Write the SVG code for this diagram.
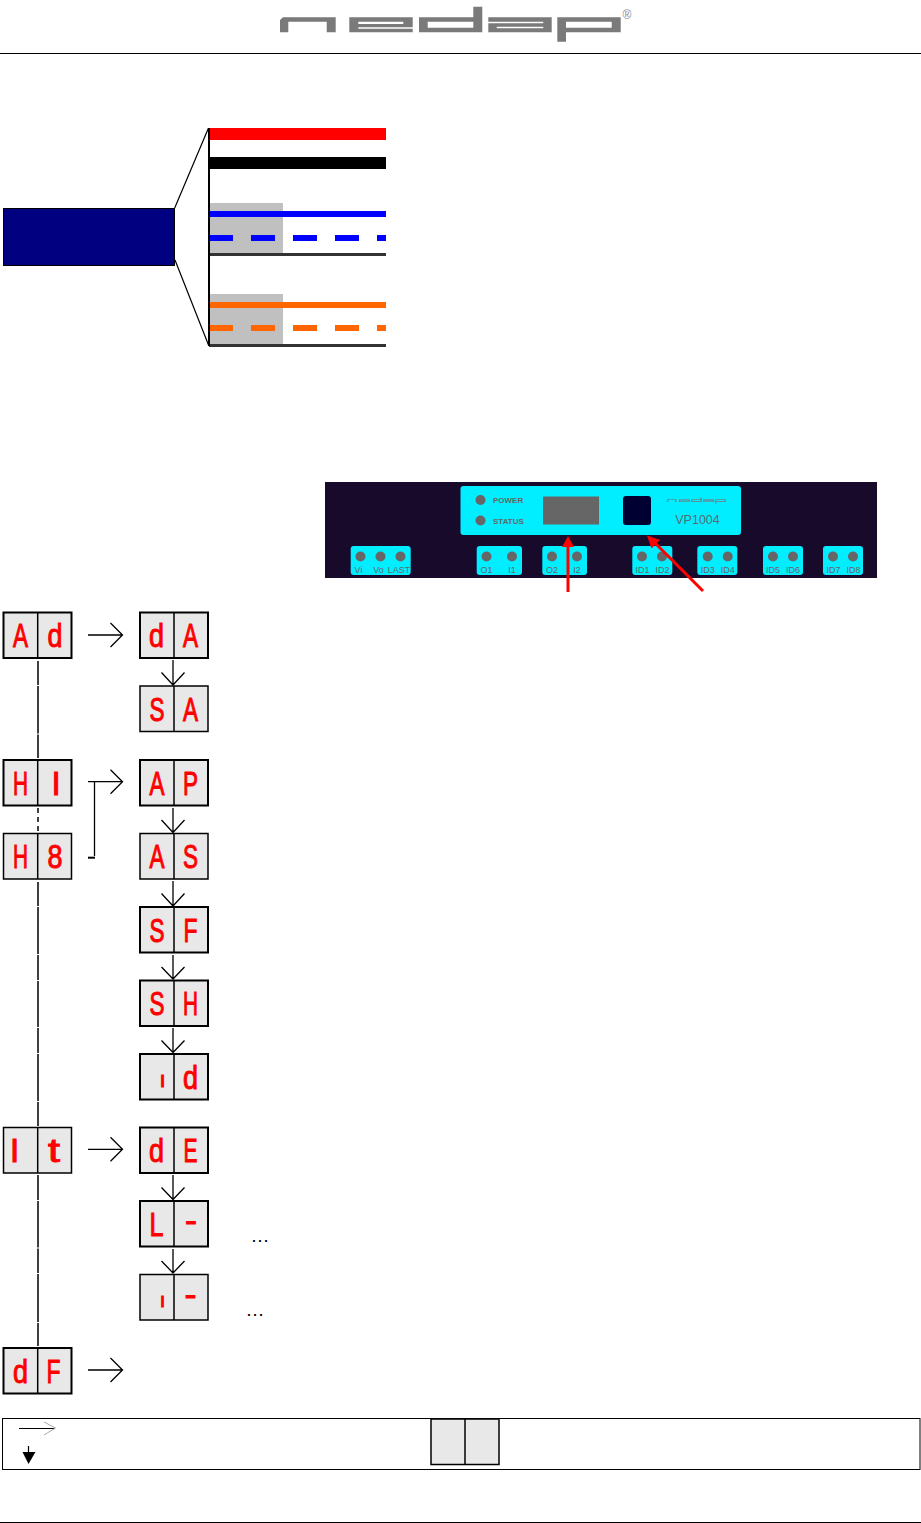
<svg xmlns="http://www.w3.org/2000/svg" xmlns:xlink="http://www.w3.org/1999/xlink" width="921" height="1523" viewBox="0 0 921 1523">
<style>
text{font-family:"Liberation Sans",Arial,sans-serif}
.cell{fill:#e8e8e8;stroke:#000;stroke-width:1.5}
.thick{stroke-width:2}
.div{stroke:#000;stroke-width:1.5}
.seg{fill:#f00;stroke:#f00;stroke-width:1;font-size:33px;text-anchor:middle}
.lnk{fill:none;stroke:#000;stroke-width:1.3}
.lnk2{fill:none;stroke:#000;stroke-width:1.5}
.cy{fill:#00eeff}
.led{fill:#666}
.tl{fill:#666;font-size:9px;text-anchor:middle}
.pl{fill:#666;font-size:8px;font-weight:bold}
.red{fill:none;stroke:#f00;stroke-width:3}
.logo{fill:#7a7a7a}
</style>
<defs>
<g id="logo">
<path fill-rule="evenodd" d="M280 20 L283 17.3 H335.7 V32.3 H326.7 V21.7 H288.3 V32.3 H280 Z"/>
<path fill-rule="evenodd" d="M349.3 17.3 H412.7 V27.3 H358.3 V28.7 H412.7 V32.3 H349.3 Z M358.3 21.7 V24 H403.3 V21.7 Z"/>
<path fill-rule="evenodd" d="M419 17.3 H473.3 V6.7 H482.3 V32.3 H419 Z M427.7 21.7 V27.7 H473.3 V21.7 Z"/>
<path fill-rule="evenodd" d="M488.3 17.3 H551.7 V32.3 H488.3 V28.3 H543.3 V26.7 H496.7 V28.3 H488.3 V23.3 H543.3 V21.7 H488.3 Z"/>
<path fill-rule="evenodd" d="M557.3 17.3 H620.7 V32.3 H566 V41.7 H557.3 Z M566 21.7 V27.7 H611.7 V21.7 Z"/>
</g>
</defs>
<rect width="921" height="1523" fill="#fff"/>

<g id="header">
<use xlink:href="#logo" href="#logo" class="logo"/>
<text x="627" y="19" font-size="12" fill="#8a8a8a" text-anchor="middle">®</text>
<rect x="0" y="53" width="921" height="1" fill="#000"/>
<rect x="0" y="1522" width="921" height="1" fill="#000"/>
</g>

<g id="cable">
<path d="M174.7 208 L208.5 128 M175 260 L208.5 345" fill="none" stroke="#000" stroke-width="1.2"/>
<rect x="3.5" y="208.5" width="171" height="57" fill="#000080" stroke="#000" stroke-width="1"/>
<rect x="209" y="203" width="74" height="50" fill="#c0c0c0"/>
<rect x="209" y="294" width="74" height="50" fill="#c0c0c0"/>
<rect x="209" y="128" width="177" height="12" fill="#f00"/>
<rect x="209" y="157" width="177" height="12" fill="#000"/>
<rect x="209" y="211" width="177" height="6" fill="#00f"/>
<path d="M209 238 H233 M251 238 H275 M293 238 H317 M335 238 H359 M377 238 H386" stroke="#00f" stroke-width="6" fill="none"/>
<rect x="209" y="253" width="177" height="3" fill="#333"/>
<rect x="209" y="302" width="177" height="6" fill="#f60"/>
<path d="M209 328 H233 M251 328 H275 M293 328 H317 M335 328 H359 M377 328 H386" stroke="#f60" stroke-width="6" fill="none"/>
<rect x="209" y="344" width="177" height="3" fill="#333"/>
<rect x="208" y="128" width="2" height="218" fill="#000"/>
</g>

<g id="panel">
<rect x="325" y="482" width="552" height="96" fill="#170a2b"/>
<rect class="cy" x="460.5" y="486" width="280.5" height="49" rx="3"/>
<circle class="led" cx="480.5" cy="500" r="5"/>
<circle class="led" cx="480.5" cy="520.5" r="5"/>
<text class="pl" x="493" y="503">POWER</text>
<text class="pl" x="493" y="524">STATUS</text>
<rect x="543" y="496.5" width="56" height="28" fill="#666"/>
<rect x="623" y="496" width="28" height="29" rx="3" fill="#000033"/>
<use xlink:href="#logo" href="#logo" fill="#5f8f99" transform="translate(618.5 496.3) scale(.173)"/>
<text x="697.5" y="524" font-size="12.5" fill="#5a6a75" text-anchor="middle">VP1004</text>
<rect class="cy" x="350.7" y="546" width="60" height="29" rx="3"/>
<rect class="cy" x="476.7" y="546" width="45.3" height="29" rx="3"/>
<rect class="cy" x="542.3" y="546" width="44.7" height="29" rx="3"/>
<rect class="cy" x="632.3" y="546" width="40" height="29" rx="3"/>
<rect class="cy" x="697.3" y="546" width="40" height="29" rx="3"/>
<rect class="cy" x="763" y="546" width="40" height="29" rx="3"/>
<rect class="cy" x="823" y="546" width="40" height="29" rx="3"/>
<g>
<circle class="led" cx="360.5" cy="556.5" r="5"/><circle class="led" cx="380.5" cy="556.5" r="5"/><circle class="led" cx="400.5" cy="556.5" r="5"/>
<circle class="led" cx="486.5" cy="556.5" r="5"/><circle class="led" cx="512" cy="556.5" r="5"/>
<circle class="led" cx="552" cy="556.5" r="5"/><circle class="led" cx="577" cy="556.5" r="5"/>
<circle class="led" cx="642" cy="556.5" r="5"/><circle class="led" cx="662" cy="556.5" r="5"/>
<circle class="led" cx="707.7" cy="556.5" r="5"/><circle class="led" cx="727.7" cy="556.5" r="5"/>
<circle class="led" cx="773" cy="556.5" r="5"/><circle class="led" cx="793" cy="556.5" r="5"/>
<circle class="led" cx="833" cy="556.5" r="5"/><circle class="led" cx="853" cy="556.5" r="5"/>
</g>
<g>
<text class="tl" x="358.5" y="572.5">Vi</text><text class="tl" x="378.5" y="572.5">Vo</text><text class="tl" x="399" y="572.5">LAST</text>
<text class="tl" x="486.5" y="572.5">O1</text><text class="tl" x="512" y="572.5">I1</text>
<text class="tl" x="552" y="572.5">O2</text><text class="tl" x="577" y="572.5">I2</text>
<text class="tl" x="642.5" y="572.5">ID1</text><text class="tl" x="662.5" y="572.5">ID2</text>
<text class="tl" x="707.7" y="572.5">ID3</text><text class="tl" x="727.7" y="572.5">ID4</text>
<text class="tl" x="773" y="572.5">ID5</text><text class="tl" x="793" y="572.5">ID6</text>
<text class="tl" x="833.5" y="572.5">ID7</text><text class="tl" x="853.5" y="572.5">ID8</text>
</g>
<path class="red" d="M568 592 V545"/>
<path d="M568 536 L574 547 H562 Z" fill="#f00"/>
<path class="red" d="M703 591 L654 542"/>
<path d="M647 535.5 L660 540 L651.5 548.5 Z" fill="#f00"/>
</g>

<g id="connectors">
<path class="lnk2" d="M38 661 V685 M38 686 V733.5 M38 734.5 V758"/>
<path class="lnk2" d="M38 808 V832" stroke-dasharray="5 4"/>
<path class="lnk2" d="M38 882 V906 M38 907 V954 M38 955 V980 M38 981 V1027 M38 1028 V1053 M38 1054 V1101 M38 1102 V1126"/>
<path class="lnk2" d="M38 1175 V1200 M38 1201 V1247.5 M38 1248.5 V1273 M38 1274 V1322 M38 1323 V1346"/>
<path class="lnk" d="M88 635 H122.5 M110.5 623 L122.5 635 L110.5 647"/>
<path class="lnk" d="M88 781.7 H122.5 M110.5 769.7 L122.5 781.7 L110.5 793.7"/>
<path class="lnk" d="M88 1149.3 H122.5 M110.5 1137.3 L122.5 1149.3 L110.5 1161.3"/>
<path class="lnk" d="M88 1370 H122.5 M110.5 1358 L122.5 1370 L110.5 1382"/>
<path class="lnk" d="M94.5 782 V856"/>
<path d="M88 857.7 H95" fill="none" stroke="#000" stroke-width="2"/>
<path class="lnk" d="M173 660 V685 M161.5 672.5 L173 685 L184.5 672.5"/>
<path class="lnk" d="M173 808 V832.5 M161.5 820 L173 832.5 L184.5 820"/>
<path class="lnk" d="M173 881 V906 M161.5 893.5 L173 906 L184.5 893.5"/>
<path class="lnk" d="M173 955 V979 M161.5 967 L173 979 L184.5 967"/>
<path class="lnk" d="M173 1028 V1052.5 M161.5 1040.5 L173 1052.5 L184.5 1040.5"/>
<path class="lnk" d="M173 1175 V1199.5 M161.5 1187.5 L173 1199.5 L184.5 1187.5"/>
<path class="lnk" d="M173 1249 V1273 M161.5 1261 L173 1273 L184.5 1261"/>
</g>

<g id="node-Ad"><rect class="cell thick" x="3.5" y="612.5" width="68" height="45.5"/><path class="div" d="M37.7 612.5 V658"/><text class="seg" x="20.5" y="647" textLength="15" lengthAdjust="spacingAndGlyphs">A</text><text class="seg" x="55" y="647" textLength="15" lengthAdjust="spacingAndGlyphs">d</text></g>
<g id="node-dA"><rect class="cell thick" x="140" y="612.5" width="68" height="45.5"/><path class="div thick" d="M174 612.5 V658"/><text class="seg" x="156.5" y="647" textLength="15" lengthAdjust="spacingAndGlyphs">d</text><text class="seg" x="190.5" y="647" textLength="15" lengthAdjust="spacingAndGlyphs">A</text></g>
<g id="node-SA"><rect class="cell" x="140" y="686" width="68" height="45.5"/><path class="div thick" d="M174 686 V731.5"/><text class="seg" x="157" y="721" textLength="15" lengthAdjust="spacingAndGlyphs">S</text><text class="seg" x="190.5" y="721" textLength="15" lengthAdjust="spacingAndGlyphs">A</text></g>
<g id="node-HI"><rect class="cell thick" x="3.5" y="760" width="68" height="45.5"/><path class="div" d="M37.7 760 V805.5"/><text class="seg" x="20.5" y="794.5" textLength="15" lengthAdjust="spacingAndGlyphs">H</text><text class="seg" x="56" y="794.5">I</text></g>
<g id="node-AP"><rect class="cell thick" x="140" y="760" width="68" height="45.5"/><path class="div thick" d="M174 760 V805.5"/><text class="seg" x="157" y="794.5" textLength="15" lengthAdjust="spacingAndGlyphs">A</text><text class="seg" x="190.5" y="794.5" textLength="15" lengthAdjust="spacingAndGlyphs">P</text></g>
<g id="node-H8"><rect class="cell" x="3.5" y="833.5" width="68" height="45.5"/><path class="div" d="M37.7 833.5 V879"/><text class="seg" x="20.5" y="868" textLength="15" lengthAdjust="spacingAndGlyphs">H</text><text class="seg" x="55" y="868" textLength="15" lengthAdjust="spacingAndGlyphs">8</text></g>
<g id="node-AS"><rect class="cell" x="140" y="833.5" width="68" height="45.5"/><path class="div thick" d="M174 833.5 V879"/><text class="seg" x="157" y="868" textLength="15" lengthAdjust="spacingAndGlyphs">A</text><text class="seg" x="190.5" y="868" textLength="15" lengthAdjust="spacingAndGlyphs">S</text></g>
<g id="node-SF"><rect class="cell thick" x="140" y="907" width="68" height="45.5"/><path class="div thick" d="M174 907 V952.5"/><text class="seg" x="157" y="942" textLength="15" lengthAdjust="spacingAndGlyphs">S</text><text class="seg" x="190.5" y="942" textLength="14" lengthAdjust="spacingAndGlyphs">F</text></g>
<g id="node-SH"><rect class="cell thick" x="140" y="980.5" width="68" height="45.5"/><path class="div thick" d="M174 980.5 V1026"/><text class="seg" x="157" y="1015" textLength="15" lengthAdjust="spacingAndGlyphs">S</text><text class="seg" x="190.5" y="1015" textLength="15" lengthAdjust="spacingAndGlyphs">H</text></g>
<g id="node-id"><rect class="cell thick" x="140" y="1054" width="68" height="45.5"/><path class="div thick" d="M174 1054 V1099.5"/><text class="seg" x="162.5" y="1087" style="font-size:22px">ı</text><text class="seg" x="190.5" y="1089" textLength="15" lengthAdjust="spacingAndGlyphs">d</text></g>
<g id="node-It"><rect class="cell" x="3.5" y="1127.5" width="68" height="45.5"/><path class="div" d="M37.7 1127.5 V1173"/><text class="seg" x="14.5" y="1162">I</text><text class="seg" x="54" y="1162" textLength="12" lengthAdjust="spacingAndGlyphs">t</text></g>
<g id="node-dE"><rect class="cell thick" x="140" y="1127.5" width="68" height="45.5"/><path class="div thick" d="M174 1127.5 V1173"/><text class="seg" x="156.5" y="1162" textLength="15" lengthAdjust="spacingAndGlyphs">d</text><text class="seg" x="190.5" y="1162" textLength="14" lengthAdjust="spacingAndGlyphs">E</text></g>
<g id="node-L"><rect class="cell thick" x="140" y="1201" width="68" height="45.5"/><path class="div thick" d="M174 1201 V1246.5"/><text class="seg" x="156.5" y="1236" textLength="14" lengthAdjust="spacingAndGlyphs">L</text><text class="seg" x="191" y="1232" textLength="12" lengthAdjust="spacingAndGlyphs">-</text></g>
<g id="node-i"><rect class="cell" x="140" y="1274.5" width="68" height="45.5"/><path class="div thick" d="M174 1274.5 V1320"/><text class="seg" x="162.5" y="1307" style="font-size:20px">ı</text><text class="seg" x="190.5" y="1306" textLength="12" lengthAdjust="spacingAndGlyphs">-</text></g>
<g id="node-dF"><rect class="cell thick" x="3.5" y="1348" width="68" height="45.5"/><path class="div" d="M37.7 1348 V1393.5"/><text class="seg" x="20.5" y="1383" textLength="15" lengthAdjust="spacingAndGlyphs">d</text><text class="seg" x="53.5" y="1383" textLength="14" lengthAdjust="spacingAndGlyphs">F</text></g>

<g id="ellipses">
<text x="250.5" y="1242" font-size="19" fill="#000">…</text>
<text x="245.5" y="1316" font-size="19" fill="#000">…</text>
</g>

<g id="legend">
<rect x="2.5" y="1418.5" width="917.5" height="51" fill="none" stroke="#000" stroke-width="1"/>
<path d="M19 1428.5 H55" stroke="#000" stroke-width="1" fill="none"/>
<path d="M44 1422 L55.5 1428 L44 1435" stroke="#aaa" stroke-width="1" fill="none"/>
<path d="M28.5 1446 V1453" stroke="#000" stroke-width="1.2" fill="none"/>
<path d="M22.5 1452 H35.5 L28.5 1464 Z" fill="#000"/>
<rect class="cell" x="431" y="1419" width="68" height="45.5"/>
<path class="div" d="M465 1419 V1464.5"/>
</g>
</svg>
